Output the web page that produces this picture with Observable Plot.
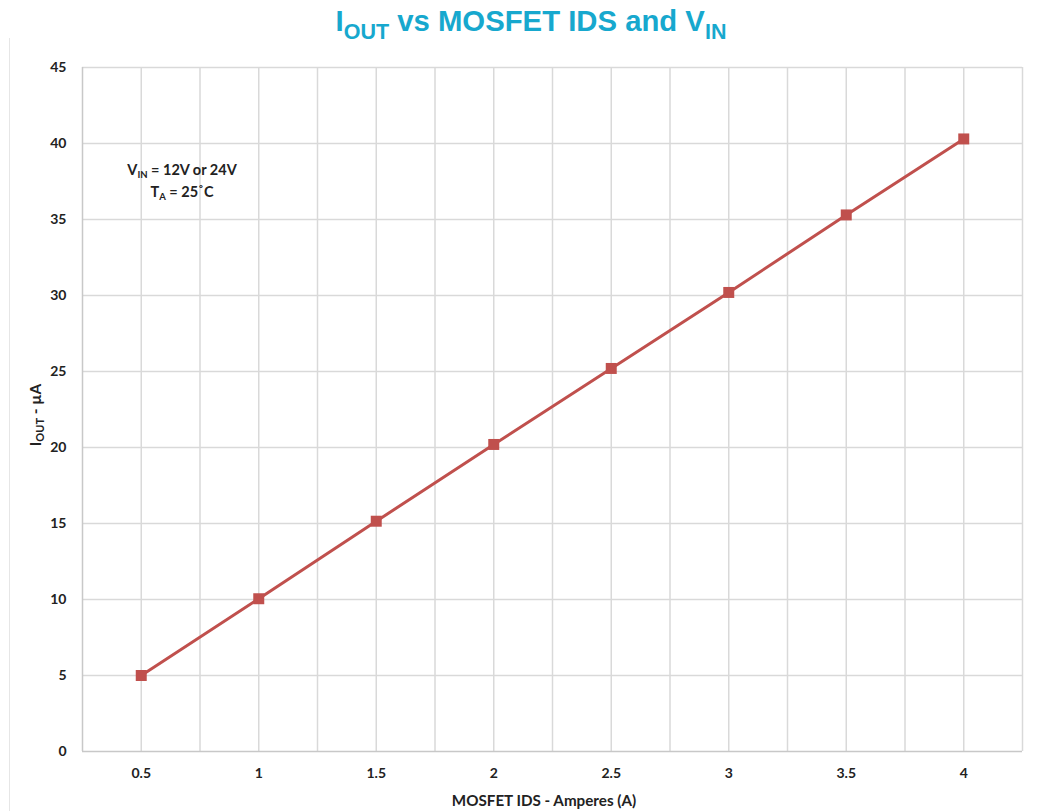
<!DOCTYPE html>
<html>
<head>
<meta charset="utf-8">
<script src="https://cdn.jsdelivr.net/npm/d3@7"></script>
<script src="https://cdn.jsdelivr.net/npm/@observablehq/plot@0.6"></script>
<style>
  html, body { margin: 0; padding: 0; background: #fff; }
  #wrap { position: relative; width: 1043px; height: 811px; overflow: hidden; font-family: Lato, "Open Sans", sans-serif; }
  #wrap svg { position: absolute; left: 0; top: 0; }
  .frame { position: absolute; left: 9px; top: 38px; width: 1px; height: 780px; background: #e6e6e6; }
  .title { position: absolute; left: 0; width: 1062px; top: 4px; text-align: center; font-family: "Liberation Sans", Arial, sans-serif; font-weight: bold; font-size: 29.3px; color: #17A8CE; white-space: nowrap; }
  .title sub { font-size: 21.5px; vertical-align: -8px; line-height: 0; }
  .note { position: absolute; left: 92px; width: 180px; top: 159px; text-align: center; font-weight: bold; font-size: 14.5px; color: #222; line-height: 22px; }
  .note sub { font-size: 9.5px; vertical-align: -3px; line-height: 0; }
  .xlab { position: absolute; left: 344px; width: 400px; top: 791px; text-align: center; font-weight: bold; font-size: 15.2px; color: #222; }
  .ylab { position: absolute; left: 35px; top: 415px; transform: translate(-50%, -50%) rotate(-90deg); font-weight: bold; font-size: 15.5px; color: #222; white-space: nowrap; }
  .ylab sub { font-size: 11px; vertical-align: -3px; line-height: 0; }
</style>
</head>
<body>
<div id="wrap">
  <div class="frame"></div>
</div>
<script>
const ids = [0.5, 1, 1.5, 2, 2.5, 3, 3.5, 4];
const iout = [5.0, 10.05, 15.15, 20.2, 25.2, 30.2, 35.3, 40.3];
const xTicks = [0.5, 1, 1.5, 2, 2.5, 3, 3.5, 4];
const xGrid = [0.5, 0.75, 1, 1.25, 1.5, 1.75, 2, 2.25, 2.5, 2.75, 3, 3.25, 3.5, 3.75, 4, 4.25];
const yTicks = [0, 5, 10, 15, 20, 25, 30, 35, 40, 45];

const data = ids.map((x, i) => ({x, y: iout[i]}));

const chart = Plot.plot({
  width: 1043,
  height: 811,
  marginLeft: 82,
  marginRight: 21,
  marginTop: 67,
  marginBottom: 60,
  style: {fontFamily: "Lato, 'Open Sans', sans-serif", fontWeight: "bold", fontSize: "14px", color: "#222", background: "transparent"},
  x: {domain: [0.25, 4.25], ticks: xTicks, tickFormat: d => String(d), tickSize: 0, tickPadding: 17, label: null},
  y: {domain: [0, 45], ticks: yTicks, tickSize: 0, tickPadding: 16, label: null},
  marks: [
    Plot.ruleY(yTicks.filter(d => d > 0), {stroke: "#d9d9d9", strokeWidth: 1.5}),
    Plot.ruleX(xGrid, {stroke: "#d9d9d9", strokeWidth: 1.5}),
    Plot.ruleX([0.25], {stroke: "#c8c8c8", strokeWidth: 1.5}),
    Plot.ruleY([0], {stroke: "#c8c8c8", strokeWidth: 1.5}),
    Plot.line(data, {x: "x", y: "y", stroke: "#C0504D", strokeWidth: 3}),
    Plot.dot(data, {x: "x", y: "y", symbol: "square", r: 6.2, fill: "#C0504D", stroke: "none"})
  ]
});

const wrap = document.getElementById("wrap");
wrap.appendChild(chart);

const title = document.createElement("div");
title.className = "title";
title.innerHTML = "I<sub>OUT</sub> vs MOSFET IDS and V<sub>IN</sub>";
wrap.appendChild(title);

const note = document.createElement("div");
note.className = "note";
note.innerHTML = "V<sub>IN</sub> = 12V or 24V<br>T<sub>A</sub> = 25˚C";
wrap.appendChild(note);

const xlab = document.createElement("div");
xlab.className = "xlab";
xlab.textContent = "MOSFET IDS - Amperes (A)";
wrap.appendChild(xlab);

const ylab = document.createElement("div");
ylab.className = "ylab";
ylab.innerHTML = "I<sub>OUT</sub> - µA";
wrap.appendChild(ylab);
</script>
</body>
</html>
